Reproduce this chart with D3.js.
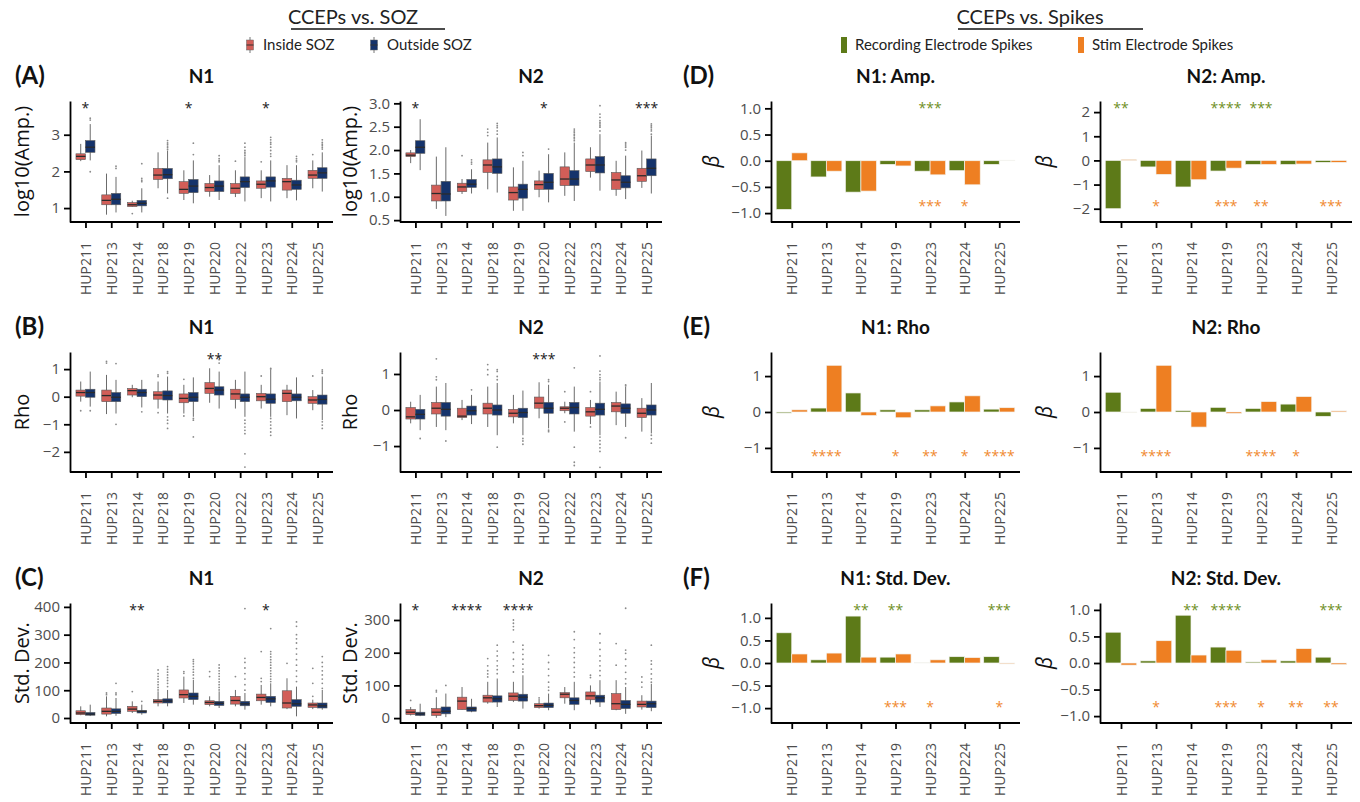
<!DOCTYPE html>
<html lang="en">
<head>
<meta charset="UTF-8">
<title>CCEPs vs SOZ / Spikes</title>
<script src="https://cdn.jsdelivr.net/npm/d3@7"></script>
<style>
  body { margin: 0; background: #fff; }
  svg { display: block; }
  .axis path, .axis line { stroke: #000; stroke-width: 1.8; }
</style>
</head>
<body>
<svg id="chart" width="1360" height="802"></svg>
<script>
// ---- categories ----
var sozPatients = ["HUP211","HUP213","HUP214","HUP218","HUP219","HUP220","HUP222","HUP223","HUP224","HUP225"];
var spikePatients = ["HUP211","HUP213","HUP214","HUP219","HUP223","HUP224","HUP225"];

// ---- box stats per patient: [low whisker, q1, median, q3, high whisker] ----
var ampN1In = [[2.28,2.32,2.41,2.48,2.75],[0.82,1.09,1.21,1.36,1.94],[1.03,1.04,1.09,1.15,1.2],[1.54,1.78,1.9,2.08,2.52],[1.22,1.4,1.51,1.72,2.03],[1.31,1.45,1.56,1.67,1.9],[1.3,1.4,1.54,1.67,2.03],[1.27,1.54,1.65,1.74,2.03],[1.27,1.49,1.72,1.81,2.17],[1.54,1.81,1.9,2.03,2.3]];
var ampN1InOut = [[],[],[0.85],[],[],[],[2.28],[2.26],[],[2.46]];
var ampN1Out = [[2.3,2.52,2.66,2.84,3.29],[0.88,1.09,1.24,1.4,1.85],[0.88,1.06,1.13,1.21,1.54],[1.4,1.8,1.91,2.08,2.57],[1.13,1.42,1.6,1.78,2.3],[1.22,1.45,1.6,1.74,2.17],[1.18,1.56,1.72,1.85,2.39],[1.18,1.57,1.74,1.85,2.3],[1.21,1.51,1.63,1.76,2.17],[1.45,1.81,1.96,2.1,2.52]];
var ampN1OutOut = [[3.45,3.4,1.99],[2.14,2.08],[2.21,1.81,1.76,1.72],[2.84,2.78,2.74,2.69,2.65,2.6,1.27],[2.77,2.46],[2.43,2.35,2.3,2.26],[2.77,2.66,2.57,2.52,2.48,2.43],[2.93,2.86,2.79,2.74,2.66,2.57,2.48,2.41],[2.41,2.35,2.3,2.26],[2.86,2.79,2.74,2.7,2.65,2.61]];

var ampN2In = [[1.72,1.86,1.89,1.94,2.0],[0.74,0.91,1.07,1.25,1.86],[1.06,1.11,1.21,1.29,1.38],[1.16,1.52,1.68,1.79,2.16],[0.7,0.93,1.09,1.21,1.63],[0.99,1.16,1.26,1.34,1.56],[1.02,1.24,1.38,1.64,1.95],[1.41,1.54,1.68,1.81,2.06],[1.02,1.16,1.36,1.52,1.77],[1.19,1.33,1.45,1.61,1.99]];
var ampN2InOut = [[],[],[1.88],[2.45,2.38,2.31],[],[],[],[],[],[]];
var ampN2Out = [[1.57,1.93,2.06,2.2,2.66],[0.59,0.91,1.06,1.33,2.06],[1.07,1.2,1.27,1.37,1.59],[1.09,1.5,1.64,1.81,2.27],[0.7,0.97,1.16,1.27,1.77],[0.88,1.16,1.31,1.5,1.91],[0.91,1.24,1.38,1.56,2.16],[1.13,1.51,1.68,1.86,2.34],[0.95,1.19,1.31,1.45,1.88],[1.07,1.45,1.61,1.81,2.31]];
var ampN2OutOut = [[],[],[1.79,1.74,1.7],[2.57,2.52,2.48,2.41,2.34],[1.95,1.88],[2.02],[2.45,2.41,2.38,2.34,2.31,2.27,2.24,2.2],[2.95,2.77,2.7,2.63,2.59,2.56,2.52,2.49,2.41],[2.16,2.13,2.09,2.06,2.0],[2.56,2.52,2.49,2.45,2.41,2.34]];

var rhoN1In = [[-0.18,0.02,0.15,0.24,0.55],[-0.63,-0.18,0.04,0.24,0.79],[-0.02,0.06,0.22,0.3,0.43],[-0.43,-0.09,0.06,0.18,0.55],[-0.61,-0.22,-0.06,0.1,0.43],[-0.22,0.12,0.3,0.51,1.03],[-0.43,-0.1,0.1,0.27,0.61],[-0.43,-0.15,0,0.12,0.43],[-0.67,-0.18,0.12,0.24,0.43],[-0.49,-0.24,-0.12,0,0.24]];
var rhoN1InOut = [[-0.51],[1.28,1.22],[],[0.79,0.73,-0.58],[0.63,-0.7],[],[],[0.75],[],[0.75]];
var rhoN1Out = [[-0.36,-0.02,0.15,0.27,0.91],[-0.61,-0.18,-0.02,0.15,0.61],[-0.39,0,0.15,0.27,0.61],[-0.61,-0.12,0.04,0.21,0.73],[-0.73,-0.18,-0.02,0.15,0.7],[-0.43,0.06,0.24,0.36,0.91],[-0.73,-0.18,-0.02,0.1,0.91],[-0.73,-0.24,-0.09,0.1,0.97],[-0.79,-0.15,-0.02,0.1,0.7],[-0.85,-0.27,-0.1,0.06,0.73]];
var rhoN1OutOut = [[-0.51],[1.2,-1.0],[-0.55],[0.91,0.85,-0.73,-0.85,-0.97,-1.15],[-0.79,-0.85,-1.46],[1.46,1.34,1.22],[-0.85,-0.97,-1.1,-1.22,-1.34,-2.07,-2.55],[1.03,1.0,-0.79,-0.91,-1.03,-1.15,-1.28,-1.4],[],[0.97,0.91,0.85,-0.91,-1.03,-1.15]];

var rhoN2In = [[-0.37,-0.25,-0.19,0.07,0.23],[-0.47,-0.11,0.05,0.21,0.65],[-0.28,-0.21,-0.17,0.05,0.28],[-0.47,-0.11,0.05,0.19,0.65],[-0.37,-0.19,-0.09,0.02,0.42],[-0.23,0.05,0.19,0.36,0.77],[-0.09,-0.02,0.05,0.09,0.23],[-0.39,-0.17,-0.05,0.07,0.28],[-0.42,-0.05,0.11,0.21,0.51],[-0.6,-0.21,-0.09,0.05,0.33]];
var rhoN2InOut = [[],[1.42,0.92,0.84],[],[1.26,1.12,0.98],[],[],[0.51,-0.33],[0.51,-0.47],[],[]];
var rhoN2Out = [[-0.56,-0.25,-0.12,0.02,0.42],[-0.56,-0.17,0.02,0.21,0.75],[-0.39,-0.14,-0.02,0.11,0.42],[-0.7,-0.14,0,0.14,0.75],[-0.7,-0.21,-0.07,0.05,0.54],[-0.51,-0.09,0.05,0.21,0.7],[-0.6,-0.11,0.07,0.21,0.65],[-0.7,-0.14,0.02,0.19,0.79],[-0.47,-0.09,0.05,0.17,0.65],[-0.65,-0.14,0,0.14,0.75]];
var rhoN2OutOut = [[-0.79],[-0.86],[0.56],[1.12,1.07,0.93,0.84,-1.03],[-0.79,-0.86,-0.95],[0.84,0.79,-0.56,-0.6],[1.17,-1.03,-1.45,-1.54],[1.5,1.08,0.98,0.9,0.84,-0.75,-0.85,-0.95,-1.05,-1.15,-1.59],[0.7,0.67,-0.77],[-0.7,-0.8,-0.92]];

var sdN1In = [[10,12,18,26,42],[6,14,24,36,78],[18,24,32,42,60],[42,54,60,66,96],[54,72,84,101,149],[42,48,56,62,78],[42,50,63,78,101],[48,62,74,86,119],[32,36,54,98,143],[32,38,47,54,66]];
var sdN1InOut = [[],[90,84],[95],[173,160,150,140,130,120,110,101],[167,161],[167,149],[149],[239,143,131],[197],[179,125,78]];
var sdN1Out = [[7,10,14,20,48],[8,16,24,33,72],[12,18,24,27,48],[42,54,61,69,101],[48,66,78,90,137],[36,45,53,60,96],[30,44,51,60,90],[42,56,69,78,125],[6,42,51,66,113],[30,36,44,54,101]];
var sdN1OutOut = [[],[125,90,84],[60],[185,175,165,155,145,135,125,113],[210,203,195,185,175,165,155,143],[191,180,170,160,150,140,130,120,110,101],[394,215,200,180,160,140,120,100],[322,239,230,220,210,200,190,180,170,160,150,140,131],[346,330,300,285,270,250,230,210,190,170,150,131],[221,200,185,170,155,140,125,107]];

var sdN2In = [[8,11,18,26,34],[1,8,18,29,64],[26,26,52,64,95],[44,49,62,70,111],[49,54,67,77,111],[29,32,38,44,59],[44,62,73,78,95],[42,56,68,80,100],[24,26,44,75,116],[26,34,42,52,70]];
var sdN2InOut = [[54],[85,80],[],[182,160,145,135,126],[300,290,280,270,233,200,180,160,141],[62],[],[131,124],[228,162],[126,110,95]];
var sdN2Out = [[6,8,13,18,44],[3,13,21,34,75],[18,21,29,34,59],[34,49,59,68,121],[29,52,64,73,131],[24,32,39,46,75],[24,42,54,62,111],[34,49,62,70,116],[13,29,42,54,95],[21,32,44,52,105]];
var sdN2OutOut = [[],[100],[],[223,205,190,175,160,148,136],[223,210,195,180,165,150,141],[192,170,150,130,110,95,85],[264,240,215,200,185,170,155,140,126],[258,230,210,190,175,160,145,130],[336,208,198,180,160,140,120,105],[223,175,165,150,135,120,110]];

// significance labels (SOZ panels)
var ampN1Stars = ["*","","","","*","","","*","",""];
var ampN2Stars = ["*","","","","","*","","","","***"];
var rhoN1Stars = ["","","","","","**","","","",""];
var rhoN2Stars = ["","","","","","***","","","",""];
var sdN1Stars = ["","","**","","","","","*","",""];
var sdN2Stars = ["*","","****","","****","","","","",""];

// ---- beta coefficients (spike panels) ----
var ampN1Rec = [-0.93,-0.31,-0.6,-0.07,-0.2,-0.19,-0.07];
var ampN1Stim = [0.15,-0.2,-0.58,-0.1,-0.27,-0.46,0.01];
var ampN2Rec = [-2.0,-0.27,-1.1,-0.44,-0.17,-0.17,-0.08];
var ampN2Stim = [0.04,-0.58,-0.8,-0.32,-0.17,-0.15,-0.08];
var rhoN1Rec = [-0.03,0.11,0.53,0.06,0.06,0.28,0.08];
var rhoN1Stim = [0.06,1.3,-0.1,-0.16,0.17,0.45,0.12];
var rhoN2Rec = [0.55,0.1,0.04,0.13,0.1,0.22,-0.12];
var rhoN2Stim = [-0.02,1.3,-0.42,-0.04,0.29,0.43,0.03];
var sdN1Rec = [0.67,0.07,1.04,0.13,0.01,0.14,0.14];
var sdN1Stim = [0.2,0.22,0.13,0.2,0.07,0.12,-0.02];
var sdN2Rec = [0.58,0.04,0.9,0.3,0.02,0.04,0.11];
var sdN2Stim = [-0.04,0.42,0.15,0.24,0.06,0.27,-0.03];

var ampN1RecStars = ["","","","","***","",""];
var ampN1StimStars = ["","","","","***","*",""];
var ampN2RecStars = ["**","","","****","***","",""];
var ampN2StimStars = ["","*","","***","**","","***"];
var rhoN1RecStars = ["","","","","","",""];
var rhoN1StimStars = ["","****","","*","**","*","****"];
var rhoN2RecStars = ["","","","","","",""];
var rhoN2StimStars = ["","****","","","****","*",""];
var sdN1RecStars = ["","","**","**","","","***"];
var sdN1StimStars = ["","","","***","*","","*"];
var sdN2RecStars = ["","","**","****","","","***"];
var sdN2StimStars = ["","*","","***","*","**","**"];

// ---- colours ----
var colInside = "#d25e58", colOutside = "#15336b";
var colRec = "#5d7a18", colStim = "#ee7f22";
var colRecText = "#6f8f25", colStimText = "#f08a30";

// ---- layout ----
var cols = [[70, 333], [400, 662], [771, 1020], [1100, 1352]];
var ylabX = [22, 350, 712, 1045];
var rows = [[101, 222], [352, 472], [603, 723]];
var titleY = [76, 327, 578];
var axisFont = "'Open Sans', 'DejaVu Sans', sans-serif";

var svg = d3.select("#chart");

function fmtDec(v) { return d3.format(".1f")(v); }
function fmtInt(v) { return d3.format("d")(v); }

function drawAxes(g, x, y, ticks, fmt, xr, yr) {
    var ya = g.append("g").attr("class", "axis")
        .attr("transform", "translate(" + xr[0] + ",0)")
        .call(d3.axisLeft(y).tickValues(ticks).tickFormat(fmt).tickSize(6).tickSizeOuter(0).tickPadding(4));
    ya.attr("font-family", null).attr("font-size", null);
    ya.selectAll("text").style("font-family", axisFont).style("font-size", "15px").attr("fill", "#4d4d4d");
    var xa = g.append("g").attr("class", "axis")
        .attr("transform", "translate(0," + yr[1] + ")")
        .call(d3.axisBottom(x).tickSize(6).tickSizeOuter(0));
    xa.attr("font-family", null).attr("font-size", null);
    xa.selectAll("text")
        .style("font-family", axisFont).style("font-size", "14px").attr("fill", "#4d4d4d")
        .attr("transform", "rotate(-90)")
        .attr("text-anchor", "end")
        .attr("x", -20).attr("y", 0).attr("dy", "0.36em");
    xa.select(".domain").attr("d", "M" + xr[0] + ",0H" + xr[1]);
}

function yTitle(x, yr, label, italic) {
    svg.append("text")
        .attr("transform", "translate(" + x + "," + ((yr[0] + yr[1]) / 2) + ") rotate(-90)")
        .attr("text-anchor", "middle").attr("dy", "0.35em")
        .style("font-family", axisFont)
        .style("font-style", italic ? "italic" : "normal")
        .style("font-size", italic ? "21px" : "20px")
        .attr("fill", "#111")
        .text(label);
}

function panelTitle(xr, ty, label) {
    svg.append("text")
        .attr("x", (xr[0] + xr[1]) / 2).attr("y", ty).attr("dy", "0.35em")
        .attr("text-anchor", "middle")
        .style("font-family", "Lato, sans-serif").style("font-weight", "bold").style("font-size", "19px")
        .attr("fill", "#111").text(label);
}

function starText(g, xp, yp, label, color) {
    g.append("text").attr("x", xp).attr("y", yp)
        .attr("text-anchor", "middle")
        .style("font-family", axisFont).style("font-size", "14px")
        .attr("fill", color).text(label);
}

function drawBoxPanel(p) {
    var xr = cols[p.col], yr = rows[p.row];
    var x = d3.scalePoint().domain(sozPatients).range(xr).padding(0.6);
    var y = d3.scaleLinear().domain(p.domain).range([yr[1], yr[0]]);
    var g = svg.append("g");
    var bw = 9.5;
    var groups = [
        { stats: p.inside, out: p.insideOut, fill: colInside, off: -bw },
        { stats: p.outside, out: p.outsideOut, fill: colOutside, off: 0 }
    ];
    groups.forEach(function (gr) {
        sozPatients.forEach(function (pt, i) {
            var s = gr.stats[i];
            var x0 = x(pt) + gr.off, xc = x0 + bw / 2;
            g.append("line").attr("x1", xc).attr("x2", xc).attr("y1", y(s[4])).attr("y2", y(s[0]))
                .attr("stroke", "#6b6b6b").attr("stroke-width", 1);
            gr.out[i].forEach(function (v) {
                g.append("circle").attr("cx", xc).attr("cy", y(v)).attr("r", 0.9).attr("fill", "#8a8a8a");
            });
            g.append("rect").attr("x", x0).attr("width", bw)
                .attr("y", y(s[3])).attr("height", Math.max(1, y(s[1]) - y(s[3])))
                .attr("fill", gr.fill).attr("stroke", "#5a5a5a").attr("stroke-width", 0.6);
            g.append("line").attr("x1", x0).attr("x2", x0 + bw).attr("y1", y(s[2])).attr("y2", y(s[2]))
                .attr("stroke", "#2b2b2b").attr("stroke-width", 1.3);
        });
    });
    sozPatients.forEach(function (pt, i) {
        if (p.stars[i]) starText(g, x(pt), yr[0] + 12, p.stars[i], "#222");
    });
    drawAxes(g, x, y, p.ticks, p.fmt, xr, yr);
    yTitle(ylabX[p.col], yr, p.ylabel, false);
    panelTitle(xr, titleY[p.row], p.title);
}

function drawBarPanel(p) {
    var xr = cols[p.col], yr = rows[p.row];
    var x = d3.scalePoint().domain(spikePatients).range(xr).padding(0.6);
    var y = d3.scaleLinear().domain(p.domain).range([yr[1], yr[0]]);
    var g = svg.append("g");
    var bw = x.step() * 0.45;
    var series = [
        { vals: p.rec, fill: colRec, off: -bw },
        { vals: p.stim, fill: colStim, off: 0 }
    ];
    series.forEach(function (s) {
        g.selectAll(null).data(spikePatients).enter().append("rect")
            .attr("x", function (d) { return x(d) + s.off; })
            .attr("width", bw)
            .attr("y", function (d, i) { return y(Math.max(0, s.vals[i])); })
            .attr("height", function (d, i) { return Math.abs(y(s.vals[i]) - y(0)); })
            .attr("fill", s.fill).attr("stroke", "#f4f4f0").attr("stroke-width", 0.7);
    });
    spikePatients.forEach(function (pt, i) {
        if (p.recStars[i]) starText(g, x(pt), yr[0] + 12, p.recStars[i], colRecText);
        if (p.stimStars[i]) starText(g, x(pt), yr[0] + 0.84 * (yr[1] - yr[0]) + 8, p.stimStars[i], colStimText);
    });
    drawAxes(g, x, y, p.ticks, p.fmt, xr, yr);
    yTitle(ylabX[p.col], yr, "\u03b2", true);
    panelTitle(xr, titleY[p.row], p.title);
}

// ---- SOZ boxplots ----
drawBoxPanel({ col: 0, row: 0, title: "N1", ylabel: "log10(Amp.)", domain: [0.62, 3.92], ticks: [1, 2, 3], fmt: fmtInt,
    inside: ampN1In, insideOut: ampN1InOut, outside: ampN1Out, outsideOut: ampN1OutOut, stars: ampN1Stars });
drawBoxPanel({ col: 1, row: 0, title: "N2", ylabel: "log10(Amp.)", domain: [0.46, 3.05], ticks: [0.5, 1, 1.5, 2, 2.5, 3], fmt: fmtDec,
    inside: ampN2In, insideOut: ampN2InOut, outside: ampN2Out, outsideOut: ampN2OutOut, stars: ampN2Stars });
drawBoxPanel({ col: 0, row: 1, title: "N1", ylabel: "Rho", domain: [-2.73, 1.62], ticks: [-2, -1, 0, 1], fmt: fmtInt,
    inside: rhoN1In, insideOut: rhoN1InOut, outside: rhoN1Out, outsideOut: rhoN1OutOut, stars: rhoN1Stars });
drawBoxPanel({ col: 1, row: 1, title: "N2", ylabel: "Rho", domain: [-1.72, 1.61], ticks: [-1, 0, 1], fmt: fmtInt,
    inside: rhoN2In, insideOut: rhoN2InOut, outside: rhoN2Out, outsideOut: rhoN2OutOut, stars: rhoN2Stars });
drawBoxPanel({ col: 0, row: 2, title: "N1", ylabel: "Std. Dev.", domain: [-18, 414], ticks: [0, 100, 200, 300, 400], fmt: fmtInt,
    inside: sdN1In, insideOut: sdN1InOut, outside: sdN1Out, outsideOut: sdN1OutOut, stars: sdN1Stars });
drawBoxPanel({ col: 1, row: 2, title: "N2", ylabel: "Std. Dev.", domain: [-15, 352], ticks: [0, 100, 200, 300], fmt: fmtInt,
    inside: sdN2In, insideOut: sdN2InOut, outside: sdN2Out, outsideOut: sdN2OutOut, stars: sdN2Stars });

// ---- spike bar charts ----
drawBarPanel({ col: 2, row: 0, title: "N1: Amp.", domain: [-1.17, 1.14], ticks: [-1, -0.5, 0, 0.5, 1], fmt: fmtDec,
    rec: ampN1Rec, stim: ampN1Stim, recStars: ampN1RecStars, stimStars: ampN1StimStars });
drawBarPanel({ col: 3, row: 0, title: "N2: Amp.", domain: [-2.55, 2.46], ticks: [-2, -1, 0, 1, 2], fmt: fmtInt,
    rec: ampN2Rec, stim: ampN2Stim, recStars: ampN2RecStars, stimStars: ampN2StimStars });
drawBarPanel({ col: 2, row: 1, title: "N1: Rho", domain: [-1.67, 1.67], ticks: [-1, 0, 1], fmt: fmtInt,
    rec: rhoN1Rec, stim: rhoN1Stim, recStars: rhoN1RecStars, stimStars: rhoN1StimStars });
drawBarPanel({ col: 3, row: 1, title: "N2: Rho", domain: [-1.67, 1.67], ticks: [-1, 0, 1], fmt: fmtInt,
    rec: rhoN2Rec, stim: rhoN2Stim, recStars: rhoN2RecStars, stimStars: rhoN2StimStars });
drawBarPanel({ col: 2, row: 2, title: "N1: Std. Dev.", domain: [-1.33, 1.33], ticks: [-1, -0.5, 0, 0.5, 1], fmt: fmtDec,
    rec: sdN1Rec, stim: sdN1Stim, recStars: sdN1RecStars, stimStars: sdN1StimStars });
drawBarPanel({ col: 3, row: 2, title: "N2: Std. Dev.", domain: [-1.13, 1.13], ticks: [-1, -0.5, 0, 0.5, 1], fmt: fmtDec,
    rec: sdN2Rec, stim: sdN2Stim, recStars: sdN2RecStars, stimStars: sdN2StimStars });

// ---- row letters ----
var letters = [["(A)", 15, 0], ["(B)", 15, 1], ["(C)", 15, 2], ["(D)", 683, 0], ["(E)", 683, 1], ["(F)", 683, 2]];
letters.forEach(function (l) {
    svg.append("text").attr("x", l[1]).attr("y", titleY[l[2]]).attr("dy", "0.35em")
        .style("font-family", "Lato, sans-serif").style("font-weight", "bold").style("font-size", "24px")
        .attr("fill", "#111").text(l[0]);
});

// ---- section headers ----
function header(cx, label, lineX0, lineX1) {
    svg.append("text").attr("x", cx).attr("y", 17).attr("dy", "0.35em").attr("text-anchor", "middle")
        .style("font-family", "Lato, sans-serif").style("font-size", "20px").attr("fill", "#222").text(label);
    svg.append("line").attr("x1", lineX0).attr("x2", lineX1).attr("y1", 29).attr("y2", 29)
        .attr("stroke", "#111").attr("stroke-width", 1.5);
}
header(353, "CCEPs vs. SOZ", 291, 445);
header(1030, "CCEPs vs. Spikes", 958, 1143);

// ---- legends ----
function boxKey(xc, fill, label) {
    var g = svg.append("g");
    g.append("line").attr("x1", xc).attr("x2", xc).attr("y1", 37).attr("y2", 53).attr("stroke", "#777");
    g.append("rect").attr("x", xc - 3.5).attr("y", 40).attr("width", 7).attr("height", 10)
        .attr("fill", fill).attr("stroke", "#666").attr("stroke-width", 0.5);
    g.append("line").attr("x1", xc - 3.5).attr("x2", xc + 3.5).attr("y1", 45).attr("y2", 45).attr("stroke", "#333");
    g.append("text").attr("x", xc + 13).attr("y", 45).attr("dy", "0.35em")
        .style("font-family", "Lato, sans-serif").style("font-size", "15px").attr("fill", "#222").text(label);
}
boxKey(250, colInside, "Inside SOZ");
boxKey(374, colOutside, "Outside SOZ");

function barKey(x0, fill, label) {
    svg.append("rect").attr("x", x0).attr("y", 37).attr("width", 6).attr("height", 16).attr("fill", fill);
    svg.append("text").attr("x", x0 + 14).attr("y", 45).attr("dy", "0.35em")
        .style("font-family", "Lato, sans-serif").style("font-size", "15px").attr("fill", "#222").text(label);
}
barKey(841, colRec, "Recording Electrode Spikes");
barKey(1078, colStim, "Stim Electrode Spikes");
</script>
</body>
</html>
